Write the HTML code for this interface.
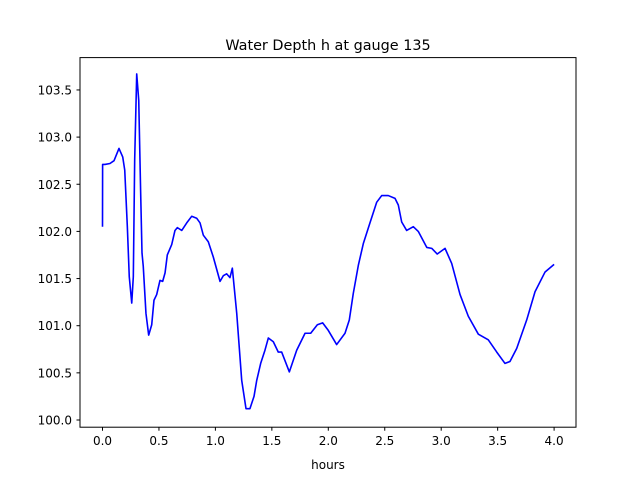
<!DOCTYPE html>
<html><head><meta charset="utf-8"><style>
body{margin:0;background:#fff;}
svg text{font-family:"DejaVu Sans","Liberation Sans",sans-serif;fill:#000;}
</style></head><body>
<svg id="chart" width="640" height="480" xmlns="http://www.w3.org/2000/svg">
<rect width="640" height="480" fill="#fff"/>
<text x="328" y="50" font-size="14.4" text-anchor="middle">Water Depth h at gauge 135</text>
<g id="plot"></g>
<rect x="80" y="57.6" width="496" height="369.6" fill="none" stroke="#000" stroke-width="1"/>
<text x="328" y="469" font-size="12" text-anchor="middle">hours</text>
</svg>
<script>
const times=[0,0.001,0.022,0.066,0.102,0.146,0.179,0.197,0.220,0.237,0.259,0.273,0.285,0.303,0.321,0.338,0.350,0.361,0.385,0.409,0.436,0.456,0.480,0.509,0.533,0.554,0.574,0.613,0.642,0.663,0.702,0.746,0.790,0.834,0.864,0.893,0.937,0.981,1.041,1.070,1.100,1.129,1.150,1.189,1.233,1.271,1.306,1.342,1.366,1.401,1.439,1.469,1.513,1.557,1.587,1.655,1.720,1.794,1.844,1.903,1.950,2.000,2.074,2.148,2.186,2.221,2.266,2.310,2.369,2.429,2.473,2.531,2.591,2.620,2.650,2.694,2.753,2.797,2.872,2.916,2.965,3.034,3.093,3.167,3.240,3.329,3.417,3.492,3.565,3.609,3.669,3.757,3.831,3.920,4.000];
const depths=[102.05,102.71,102.71,102.72,102.75,102.88,102.79,102.65,102.05,101.52,101.24,101.52,102.76,103.67,103.39,102.41,101.77,101.63,101.13,100.90,101.01,101.27,101.33,101.48,101.47,101.56,101.75,101.86,102.01,102.04,102.01,102.09,102.16,102.14,102.09,101.96,101.89,101.73,101.47,101.53,101.55,101.51,101.61,101.13,100.42,100.12,100.12,100.25,100.42,100.60,100.74,100.87,100.83,100.72,100.72,100.51,100.74,100.92,100.92,101.01,101.03,100.95,100.80,100.92,101.06,101.34,101.64,101.87,102.09,102.31,102.38,102.38,102.35,102.28,102.10,102.01,102.05,102.00,101.83,101.82,101.76,101.82,101.66,101.33,101.10,100.91,100.85,100.72,100.60,100.62,100.76,101.06,101.36,101.57,101.65];
const xTicks=[0,0.5,1,1.5,2,2.5,3,3.5,4];
const xTickLabels=["0.0","0.5","1.0","1.5","2.0","2.5","3.0","3.5","4.0"];
const yTicks=[100,100.5,101,101.5,102,102.5,103,103.5];
const yTickLabels=["100.0","100.5","101.0","101.5","102.0","102.5","103.0","103.5"];
const NS="http://www.w3.org/2000/svg";
const X0=102.5,XS=112.9,Y0=420,YS=94.3;
const xs=t=>X0+t*XS, ys=h=>Y0-(h-100)*YS;
const g=document.getElementById('plot');
function mk(tag,attrs){const e=document.createElementNS(NS,tag);for(const k in attrs)e.setAttribute(k,attrs[k]);g.appendChild(e);return e;}
xTicks.forEach((v,i)=>{
 const l=mk('line',{x1:xs(v),x2:xs(v),y1:427.2,y2:430.7,stroke:'#000'});
 
 
 const t=mk('text',{x:xs(v),y:445,'font-size':'12','text-anchor':'middle'});
 t.textContent=xTickLabels[i];
 
 
});
yTicks.forEach((v,i)=>{
 const l=mk('line',{x1:76.5,x2:80,y1:ys(v),y2:ys(v),stroke:'#000'});
 
 
 const t=mk('text',{x:72,y:ys(v)+4.5,'font-size':'12','text-anchor':'end'});
 t.textContent=yTickLabels[i];
 
 
});
const pts=times.map((t,i)=>xs(t).toFixed(2)+','+ys(depths[i]).toFixed(2)).join(' ');
const line=mk('polyline',{points:pts,fill:'none',stroke:'#0000ff','stroke-width':'1.6','stroke-linejoin':'round'});


</script>
</body></html>
